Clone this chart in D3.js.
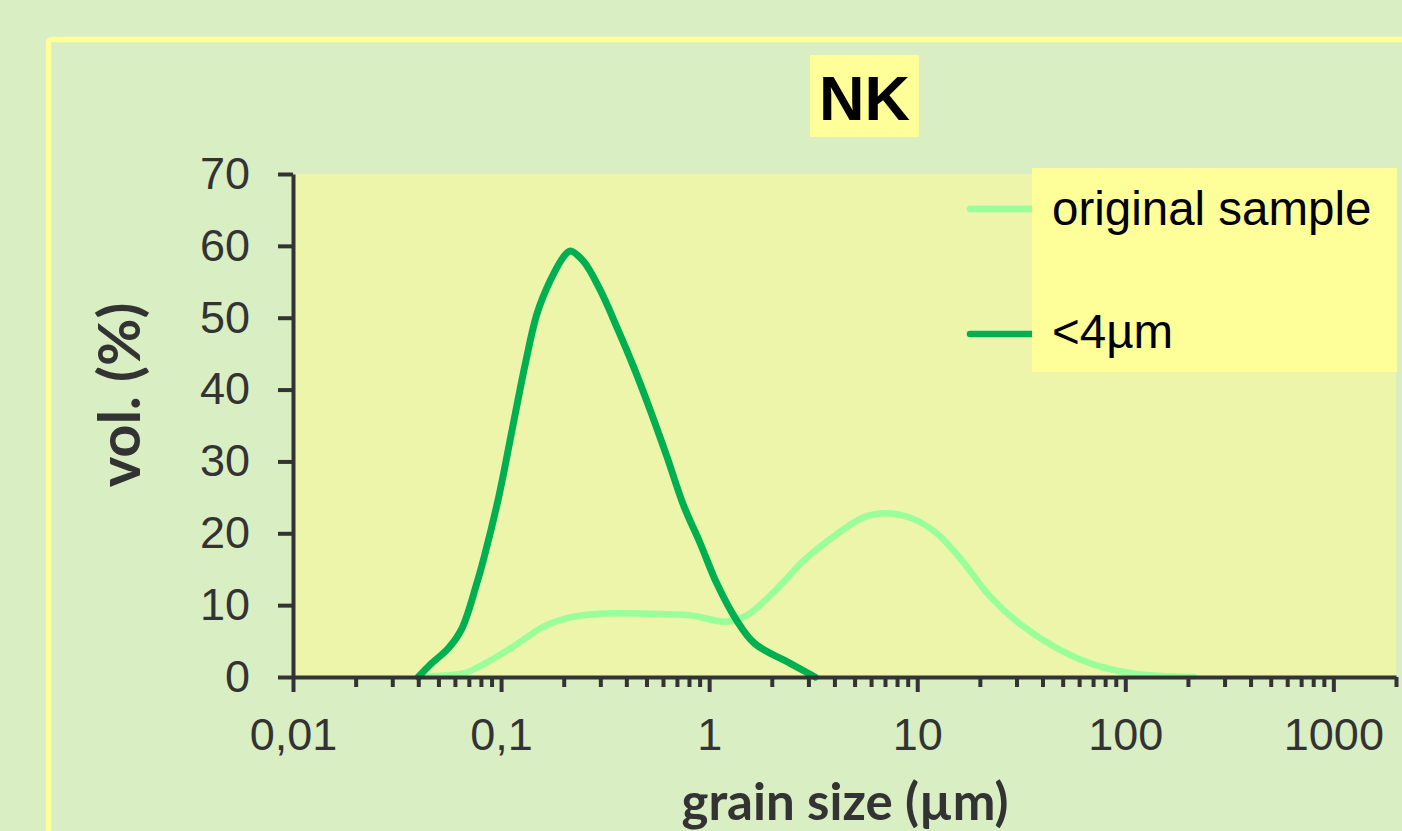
<!DOCTYPE html>
<html>
<head>
<meta charset="utf-8">
<script src="https://cdn.jsdelivr.net/npm/d3@7/dist/d3.min.js"></script>
<style>
  html, body { margin: 0; padding: 0; background: #d9eec3; }
  svg { display: block; }
</style>
</head>
<body>
<svg id="chart" width="1402" height="831"></svg>
<script>
// ---------- DATA ----------
const chartTitle = "NK";
const seriesNames = ["original sample", "<4µm"];

// original sample : grain size (µm) / vol. (%)
const origSize = [0.040, 0.060, 0.068, 0.090, 0.118, 0.160, 0.207, 0.299, 0.52, 0.81, 1.2, 1.52, 2.09, 2.87, 3.94, 5.4, 6.86, 9.4, 12.4, 16.3, 22.4, 30.8, 45.7, 67.9, 109, 214];
const origVol  = [0, 0.3, 0.6, 2.4, 4.5, 7.0, 8.2, 8.8, 8.8, 8.6, 7.7, 8.6, 12.1, 16.3, 19.5, 22.1, 22.8, 22.1, 20.0, 16.3, 11.2, 7.5, 4.2, 1.9, 0.5, 0];

// <4µm fraction
const fineSize = [0.040, 0.0464, 0.0558, 0.0647, 0.0764, 0.0826, 0.0975, 0.113, 0.131, 0.149, 0.1726, 0.2, 0.215, 0.25, 0.299, 0.36, 0.433, 0.52, 0.626, 0.753, 0.906, 1.089, 1.355, 1.65, 2.45, 3.23];
const fineVol  = [0, 1.9, 4.0, 6.7, 13.0, 16.5, 25.1, 34.4, 43.7, 50.6, 55.2, 58.5, 59.3, 57.8, 53.9, 48.7, 43.2, 37.2, 30.7, 23.9, 18.6, 13.0, 7.9, 4.7, 1.9, 0];

const xMajorTicks = [0.01, 0.1, 1, 10, 100, 1000];
const xTickLabels = ["0,01", "0,1", "1", "10", "100", "1000"];
const yTicks = [0, 10, 20, 30, 40, 50, 60, 70];
const xDomain = [0.01, 2000];
const yDomain = [0, 70];

// ---------- LAYOUT ----------
const svg = d3.select("#chart");
const W = 1402, H = 831;
const plot = { left: 293, right: 1396, top: 174, bottom: 677 };
const colors = { orig: "#99ff99", fine: "#00b050", axis: "#333333" };

svg.append("rect").attr("width", W).attr("height", H).attr("fill", "#d9eec3");
// outer yellow border
svg.append("rect")
  .attr("x", 48.5).attr("y", 39.5)
  .attr("width", W + 20).attr("height", H + 20)
  .attr("rx", 3)
  .attr("fill", "none").attr("stroke", "#ffff99").attr("stroke-width", 5.5);

const x = d3.scaleLog().domain(xDomain).range([plot.left, plot.right]);
const y = d3.scaleLinear().domain(yDomain).range([plot.bottom, plot.top]);

// plot area
svg.append("rect")
  .attr("x", plot.left).attr("y", plot.top)
  .attr("width", plot.right - plot.left).attr("height", plot.bottom - plot.top)
  .attr("fill", "#ecf5aa");

// title
const tg = svg.append("g");
tg.append("rect").attr("x", 810).attr("y", 55).attr("width", 109).attr("height", 82).attr("fill", "#ffff99");
tg.append("text").attr("x", 864.5).attr("y", 120).attr("text-anchor", "middle")
  .attr("font-family", "'Liberation Sans', Arial, sans-serif").attr("font-weight", "bold")
  .attr("font-size", 63).attr("fill", "#000").text(chartTitle);

// lines
const line = d3.line().x(d => x(d[0])).y(d => y(d[1])).curve(d3.curveCatmullRom.alpha(0.5));
const origData = origSize.map((s, i) => [s, origVol[i]]);
const fineData = fineSize.map((s, i) => [s, fineVol[i]]);

svg.append("path").datum(origData).attr("d", line)
  .attr("fill", "none").attr("stroke", colors.orig).attr("stroke-width", 6.5)
  .attr("stroke-linecap", "round").attr("stroke-linejoin", "round");
svg.append("path").datum(fineData).attr("d", line)
  .attr("fill", "none").attr("stroke", colors.fine).attr("stroke-width", 7)
  .attr("stroke-linecap", "round").attr("stroke-linejoin", "round");

// x axis minor ticks
const minorTicks = [];
for (let e = -2; e <= 3; e++) for (let m = 2; m <= 9; m++) {
  const v = m * Math.pow(10, e);
  if (v <= xDomain[1] * 1.0001) minorTicks.push(v);
}
const xMinor = svg.append("g").attr("transform", `translate(0,${plot.bottom})`)
  .call(d3.axisBottom(x).tickValues(minorTicks).tickSize(10).tickSizeOuter(0).tickFormat(""));
const xMajor = svg.append("g").attr("transform", `translate(0,${plot.bottom})`)
  .call(d3.axisBottom(x).tickValues(xMajorTicks).tickSize(15).tickSizeOuter(0).tickPadding(26)
    .tickFormat((d, i) => xTickLabels[i]));
const yAxis = svg.append("g").attr("transform", `translate(${plot.left},0)`)
  .call(d3.axisLeft(y).tickValues(yTicks).tickSize(15).tickSizeOuter(0).tickPadding(28));

[xMinor, xMajor, yAxis].forEach(g => {
  g.select(".domain").attr("stroke", colors.axis).attr("stroke-width", 4);
  g.selectAll(".tick line").attr("stroke", colors.axis).attr("stroke-width", 4);
  g.selectAll(".tick text").attr("fill", colors.axis)
    .attr("font-family", "'Liberation Sans', Arial, sans-serif").attr("font-size", 45);
});
xMinor.select(".domain").remove();

// axis titles
svg.append("text").attr("x", 845).attr("y", 820).attr("text-anchor", "middle")
  .attr("font-family", "Lato, 'Open Sans', sans-serif").attr("font-weight", "bold")
  .attr("font-size", 51).attr("fill", "#333").text("grain size (µm)");
svg.append("text").attr("transform", "translate(140,395) rotate(-90)").attr("text-anchor", "middle")
  .attr("font-family", "Lato, 'Open Sans', sans-serif").attr("font-weight", "bold")
  .attr("font-size", 58).attr("fill", "#333").text("vol. (%)");

// legend
const lg = svg.append("g");
const legendY = [209, 334];
const legendColors = [colors.orig, colors.fine];
legendY.forEach((ly, i) => {
  lg.append("line").attr("x1", 970).attr("x2", 1032).attr("y1", ly).attr("y2", ly)
    .attr("stroke", legendColors[i]).attr("stroke-width", 6.5).attr("stroke-linecap", "round");
});
lg.append("rect").attr("x", 1032).attr("y", 168).attr("width", 365).attr("height", 204).attr("fill", "#ffff99");
const legendBaselines = [225, 348];
seriesNames.forEach((n, i) => {
  lg.append("text").attr("x", 1052).attr("y", legendBaselines[i])
    .attr("font-family", "'Liberation Sans', Arial, sans-serif").attr("font-size", 47.5)
    .attr("fill", "#000").text(n);
});
</script>
</body>
</html>
